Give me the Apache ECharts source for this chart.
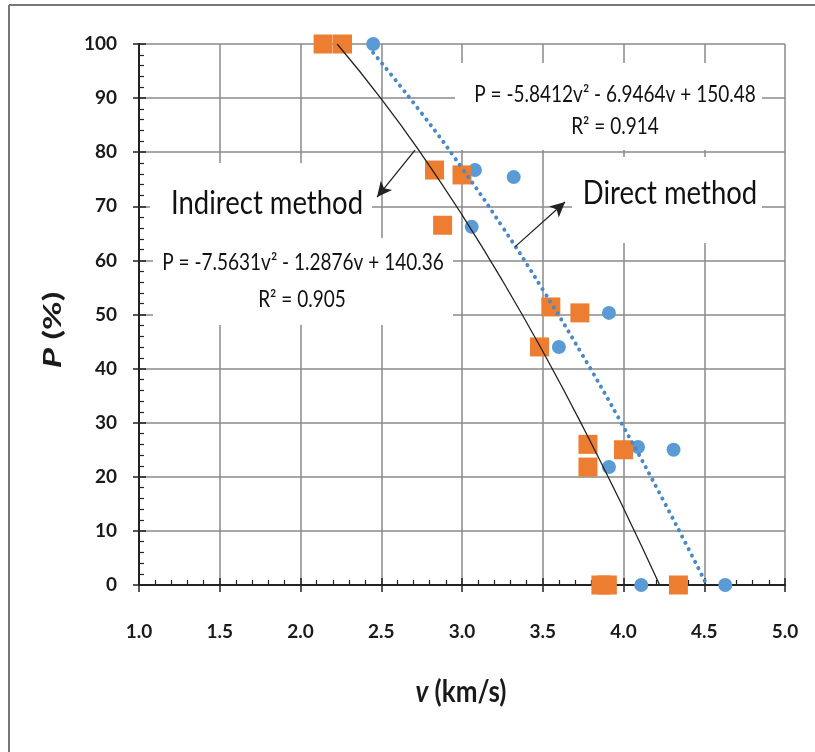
<!DOCTYPE html>
<html><head><meta charset="utf-8">
<script src="https://cdn.jsdelivr.net/npm/echarts@6/dist/echarts.min.js"></script>
<style>html,body{margin:0;padding:0;background:#fff}#c{width:815px;height:752px}</style>
</head><body><div id="c"></div>
<script>
// ---- data ----
const directV = [2.45, 3.08, 3.32, 3.06, 3.60, 3.91, 4.09, 4.31, 3.91, 4.11, 4.63];
const directP = [100, 76.7, 75.4, 66.2, 44.0, 50.3, 25.5, 25.0, 21.8, 0, 0];
const indirectV = [2.14, 2.26, 2.83, 3.00, 2.88, 3.55, 3.73, 3.48, 3.78, 3.78, 4.00, 3.86, 3.90, 4.34];
const indirectP = [100, 100, 76.7, 75.8, 66.5, 51.4, 50.3, 44.0, 26.0, 21.8, 25.0, 0, 0, 0];
// trendlines
const directTrendV = [2.45, 2.75, 3.0, 3.25, 3.5, 3.75, 4.0, 4.25, 4.516];
const directTrendP = [98.4, 87.2, 77.07, 66.21, 54.62, 42.29, 29.23, 15.45, 0];
const indirectTrendV = [2.227, 2.5, 2.75, 3.0, 3.25, 3.5, 3.75, 4.0, 4.224];
const indirectTrendP = [100, 89.87, 79.62, 68.43, 56.29, 43.20, 29.17, 14.20, 0];
// annotation arrows [fromV, fromP, toV, toP]
const indirectArrow = [2.709, 80.4, 2.474, 71.7];
const directArrow = [3.328, 62.5, 3.638, 70.8];
const xTicks = {min: 1.0, max: 5.0, interval: 0.5};
const yTicks = {min: 0, max: 100, interval: 10};
const eqDirect = 'P = -5.8412v² - 6.9464v + 150.48';
const r2Direct = 'R² = 0.914';
const eqIndirect = 'P = -7.5631v² - 1.2876v + 140.36';
const r2Indirect = 'R² = 0.905';

const zip = (a, b) => a.map((v, i) => [v, b[i]]);
const FONT = 'Lato, "Open Sans", sans-serif';
const chart = echarts.init(document.getElementById('c'), null, {renderer: 'canvas'});
const gridCol = '#8a8a8a';
const SY = 1.18;

function arrowLine(a) {
  return [[{coord: [a[0], a[1]]}, {coord: [a[2], a[3]]}]];
}
function txt(x, y, s, size, extra) {
  return Object.assign({type: 'text', x: x, y: y, z: 6, scaleY: SY,
    style: {text: s, fontSize: size, fontFamily: FONT, fill: '#111', align: 'center', verticalAlign: 'middle'}}, extra || {});
}

chart.setOption({
  animation: false,
  backgroundColor: '#fff',
  grid: {left: 139, right: 30, top: 44, bottom: 167, containLabel: false},
  xAxis: [{
    type: 'value', min: xTicks.min, max: xTicks.max, interval: xTicks.interval,
    position: 'bottom',
    axisLine: {show: true, onZero: false, lineStyle: {color: '#222', width: 2}},
    axisTick: {show: true, inside: true, length: 7, lineStyle: {color: '#222', width: 1.5}},
    minorTick: {show: true, splitNumber: 5, length: 5, lineStyle: {color: '#222', width: 1.2}},
    splitLine: {show: true, lineStyle: {color: gridCol, width: 1.5}},
    axisLabel: {margin: 37, fontSize: 19, fontWeight: 'bold', color: '#1a1a1a', fontFamily: FONT,
      formatter: v => v.toFixed(1)}
  }, {
    type: 'value', min: xTicks.min, max: xTicks.max, interval: xTicks.interval,
    position: 'bottom',
    axisLine: {show: false, onZero: false},
    axisTick: {show: true, inside: false, length: 7, lineStyle: {color: '#222', width: 1.5}},
    splitLine: {show: false}, axisLabel: {show: false}
  }],
  yAxis: [{
    type: 'value', min: yTicks.min, max: yTicks.max, interval: yTicks.interval,
    position: 'left',
    axisLine: {show: true, onZero: false, lineStyle: {color: '#222', width: 2}},
    axisTick: {show: true, inside: true, length: 7, lineStyle: {color: '#222', width: 1.5}},
    minorTick: {show: true, splitNumber: 5, length: 5, lineStyle: {color: '#222', width: 1.2}},
    splitLine: {show: true, lineStyle: {color: gridCol, width: 1.5}},
    axisLabel: {margin: 22, fontSize: 19, fontWeight: 'bold', color: '#1a1a1a', fontFamily: FONT}
  }, {
    type: 'value', min: yTicks.min, max: yTicks.max, interval: yTicks.interval,
    position: 'left',
    axisLine: {show: false, onZero: false},
    axisTick: {show: true, inside: false, length: 6, lineStyle: {color: '#222', width: 1.5}},
    splitLine: {show: false}, axisLabel: {show: false}
  }],
  series: [
    {type: 'scatter', name: 'Direct method', data: zip(directV, directP), symbol: 'circle', symbolSize: 14,
     itemStyle: {color: '#5B9BD5', opacity: 1}, z: 2},
    {type: 'scatter', name: 'Indirect method', data: zip(indirectV, indirectP), symbol: 'rect', symbolSize: 19,
     itemStyle: {color: '#ED7D31', opacity: 1}, z: 3},
    {type: 'line', name: 'Direct trend', data: zip(directTrendV, directTrendP), smooth: true, showSymbol: false, symbol: 'none',
     lineStyle: {color: '#4a88c8', width: 4, type: [0.1, 7], cap: 'round'}, z: 4,
     markLine: {silent: true, symbol: ['none', 'arrow'], symbolSize: [11, 15], label: {show: false},
       lineStyle: {color: '#222', width: 1.3, type: 'solid'}, data: arrowLine(directArrow)}},
    {type: 'line', name: 'Indirect trend', data: zip(indirectTrendV, indirectTrendP), smooth: true, showSymbol: false, symbol: 'none',
     lineStyle: {color: '#222', width: 1.3}, z: 5,
     markLine: {silent: true, symbol: ['none', 'arrow'], symbolSize: [11, 15], label: {show: false},
       lineStyle: {color: '#222', width: 1.3, type: 'solid'}, data: arrowLine(indirectArrow)}}
  ],
  graphic: [
    // chart frame
    {type: 'line', shape: {x1: 9, y1: 5, x2: 815, y2: 5}, style: {stroke: '#777', lineWidth: 2}, z: 10},
    {type: 'line', shape: {x1: 9, y1: 5, x2: 9, y2: 752}, style: {stroke: '#777', lineWidth: 2}, z: 10},
    // white text boxes
    {type: 'rect', shape: {x: 150, y: 163, width: 222, height: 75}, style: {fill: '#fff'}, z: 1},
    {type: 'rect', shape: {x: 153, y: 238, width: 300, height: 87}, style: {fill: '#fff'}, z: 1},
    {type: 'rect', shape: {x: 455, y: 63, width: 307, height: 87}, style: {fill: '#fff'}, z: 1},
    {type: 'rect', shape: {x: 572, y: 157, width: 190, height: 86}, style: {fill: '#fff'}, z: 1},
    // texts
    txt(615, 95, eqDirect, 19),
    txt(615, 127, r2Direct, 19),
    txt(670, 194, 'Direct method', 27.5),
    txt(267, 204, 'Indirect method', 27.5),
    txt(303, 263, eqIndirect, 19),
    txt(302, 300, r2Indirect, 19),
    // axis titles
    {type: 'text', x: 53, y: 330, rotation: Math.PI / 2, scaleX: 1.4, z: 6,
     style: {text: '{i|P} (%)', align: 'center', verticalAlign: 'middle', fontSize: 25, fontWeight: 'bold', fontFamily: FONT, fill: '#1a1a1a',
       rich: {i: {fontStyle: 'italic', fontWeight: 'bold', fontSize: 25, fontFamily: FONT, fill: '#1a1a1a'}}}},
    {type: 'text', x: 461, y: 692, scaleY: 1.15, z: 6,
     style: {text: '{i|v} (km/s)', align: 'center', verticalAlign: 'middle', fontSize: 26, fontWeight: 'bold', fontFamily: FONT, fill: '#1a1a1a',
       rich: {i: {fontStyle: 'italic', fontWeight: 'bold', fontSize: 26, fontFamily: FONT, fill: '#1a1a1a'}}}}
  ]
});
</script></body></html>
